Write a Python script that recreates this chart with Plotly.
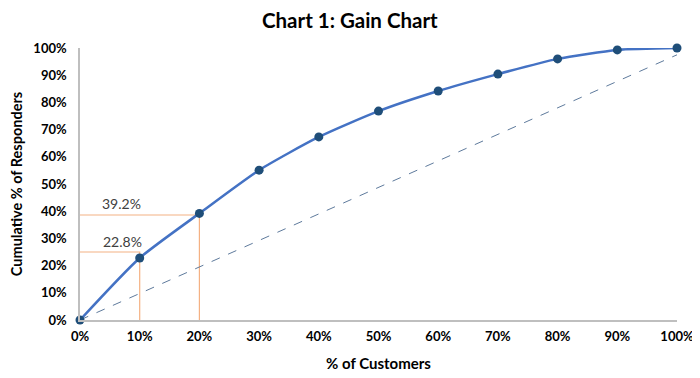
import plotly.graph_objects as go

customers = [0, 0.1, 0.2, 0.3, 0.4, 0.5, 0.6, 0.7, 0.8, 0.9, 1.0]
responders = [0, 0.228, 0.392, 0.551, 0.673, 0.768, 0.842, 0.904, 0.960, 0.993, 1.0]
baseline_x = [0, 1.0]
baseline_y = [0, 0.975]
ref_x = [0.1, 0.2]
ref_level = [0.25, 0.386]
ref_labels = ["22.8%", "39.2%"]
label_x = [0.071, 0.069]
label_y = [0.287, 0.43]
tick_vals = [i / 10 for i in range(11)]
tick_text = [f"{i*10}%" for i in range(11)]

FONT = "Lato, Open Sans, sans-serif"
fig = go.Figure()

# reference (orange) lines
for rx, ry in zip(ref_x, ref_level):
    fig.add_trace(go.Scatter(x=[0, rx, rx], y=[ry, ry, 0], mode="lines",
                             line=dict(color="#F4B183", width=1.2),
                             hoverinfo="skip", showlegend=False, cliponaxis=False))

fig.add_trace(go.Scatter(x=baseline_x, y=baseline_y, mode="lines",
                         line=dict(color="#5E7A9C", width=1, dash="dash"),
                         showlegend=False, cliponaxis=False))

fig.add_trace(go.Scatter(x=customers, y=responders, mode="lines+markers",
                         line=dict(color="#4472C4", width=2.5, shape="spline", smoothing=0.6),
                         marker=dict(color="#1F4E79", size=9),
                         showlegend=False, cliponaxis=False))

for lx, ly, lt in zip(label_x, label_y, ref_labels):
    fig.add_annotation(x=lx, y=ly, text=lt, showarrow=False,
                       font=dict(family=FONT, size=14, color="#404040"))

fig.update_layout(
    width=692, height=370,
    margin=dict(l=72, r=23, t=40, b=58, autoexpand=False),
    paper_bgcolor="white", plot_bgcolor="white",
    title=dict(text="<b>Chart 1: Gain Chart</b>", x=0.494, xanchor="center",
               y=0.965, yanchor="middle",
               font=dict(family=FONT, size=20.5, color="#000000")),
    font=dict(family=FONT, color="#000000"),
)
fig.update_xaxes(range=[0, 1], tickvals=tick_vals, ticktext=tick_text,
                 automargin=False,
                 showgrid=False, zeroline=False, showline=True,
                 linecolor="#BFBFBF", linewidth=1.5, ticks="",
                 ticklabelstandoff=4,
                 tickfont=dict(family=FONT, size=13, color="#000000", weight="bold"),
                 title=dict(text="<b>% of Customers</b>", standoff=15,
                            font=dict(family=FONT, size=15, color="#000000")))
fig.update_yaxes(range=[0, 1], tickvals=tick_vals, ticktext=tick_text,
                 automargin=False,
                 showgrid=False, zeroline=False, showline=True,
                 linecolor="#BFBFBF", linewidth=1.5, ticks="",
                 ticklabelstandoff=9,
                 tickfont=dict(family=FONT, size=13, color="#000000", weight="bold"),
                 title=dict(text="<b>Cumulative % of Responders</b>", standoff=8,
                            font=dict(family=FONT, size=14.5, color="#000000")))

fig.write_html("out.html")
